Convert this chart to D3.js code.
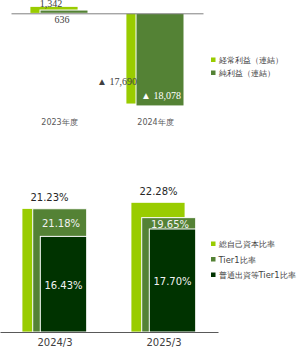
<!DOCTYPE html>
<html>
<head>
<meta charset="utf-8">
<script src="https://cdn.jsdelivr.net/npm/d3@7"></script>
<style>
  body { margin: 0; background: #fff; }
  svg { display: block; }
</style>
</head>
<body>
<svg id="chart"></svg>
<script>
// top chart: profit (millions of yen)
let years = ["2023年度", "2024年度"];
let ordinaryProfit = [1342, -17690];
let netProfit = [636, -18078];
let profitNames = ["経常利益（連結）", "純利益（連結）"];

// bottom chart: capital ratios (%)
let periods = ["2024/3", "2025/3"];
let totalRatio = [21.23, 22.28];
let tier1Ratio = [21.18, 19.65];
let cet1Ratio = [16.43, 17.70];
let ratioNames = ["総自己資本比率", "Tier1比率", "普通出資等Tier1比率"];

let light = "#99cc00", mid = "#548235", dark = "#003300";
let sans = "'DejaVu Sans', sans-serif";
let serif = "'Liberation Serif', serif";

let svg = d3.select("svg#chart").attr("width", 297).attr("height", 350);

// ---------- top ----------
let xTop = d3.scalePoint().domain(years).range([11, 203]).padding(0.5);
let yTop = d3.scaleLinear().domain([2000, -20000]).range([3.05, 115.8]);
let fmt = d3.format(",");
let signed = v => v < 0 ? "▲ " + fmt(-v) : fmt(v);

let topG = svg.append("g");
topG.selectAll("rect.op").data(ordinaryProfit).enter().append("rect")
  .attr("x", (d, i) => xTop(years[i]) - 29).attr("width", 48)
  .attr("y", d => yTop(Math.max(0, d)))
  .attr("height", d => Math.abs(yTop(d) - yTop(0)))
  .attr("fill", light).attr("stroke", "#fff").attr("stroke-width", 0.8);
topG.selectAll("rect.np").data(netProfit).enter().append("rect")
  .attr("x", (d, i) => xTop(years[i]) - 19).attr("width", 48)
  .attr("y", d => yTop(Math.max(0, d)))
  .attr("height", d => Math.abs(yTop(d) - yTop(0)))
  .attr("fill", mid).attr("stroke", "#fff").attr("stroke-width", 1);

let topAxis = d3.axisBottom(xTop).tickSize(0).tickPadding(106);
let ta = svg.append("g").attr("transform", "translate(0," + yTop(0) + ")").call(topAxis);
ta.select(".domain").attr("stroke", "#808080").attr("stroke-width", 1);
ta.selectAll("text").style("font-family", sans).style("font-size", "8px").attr("fill", "#595959");

ordinaryProfit.forEach(function(v, i) {
  let c = xTop(years[i]);
  if (v >= 0) {
    topG.append("text").attr("x", c - 8).attr("y", yTop(v) + 0.5)
      .attr("text-anchor", "middle").style("font-family", serif).style("font-size", "10px")
      .attr("fill", "#404040").text(signed(v));
  } else {
    topG.append("text").attr("x", c - 18).attr("y", 85)
      .attr("text-anchor", "end").style("font-family", serif).style("font-size", "10px")
      .attr("fill", "#404040").text(signed(v));
  }
});
netProfit.forEach(function(v, i) {
  let c = xTop(years[i]);
  if (v >= 0) {
    topG.append("text").attr("x", c + 3).attr("y", yTop(0) + 10)
      .attr("text-anchor", "middle").style("font-family", serif).style("font-size", "10px")
      .attr("fill", "#404040").text(signed(v));
  } else {
    topG.append("text").attr("x", c + 6).attr("y", yTop(v) - 7)
      .attr("text-anchor", "middle").style("font-family", serif).style("font-size", "10px")
      .attr("fill", "#fff").text(signed(v));
  }
});

let topLegend = [light, mid];
topLegend.forEach(function(col, i) {
  let yy = 60 + i * 13;
  svg.append("rect").attr("x", 211).attr("y", yy - 2.5).attr("width", 4.5).attr("height", 4.5).attr("fill", col);
  svg.append("text").attr("x", 218.5).attr("y", yy + 3).style("font-family", sans).style("font-size", "8.4px")
    .attr("fill", "#404040").text(profitNames[i]);
});

// ---------- bottom ----------
let xBot = d3.scalePoint().domain(periods).range([0, 218]).padding(0.5);
let yBot = d3.scaleLinear().domain([0, 25]).range([332, 186.5]);
let pct = d => d.toFixed(2) + "%";
let botG = svg.append("g");

botG.selectAll("rect.tot").data(totalRatio).enter().append("rect")
  .attr("x", (d, i) => xBot(periods[i]) - 32.5).attr("width", 54)
  .attr("y", d => yBot(d)).attr("height", d => yBot(0) - yBot(d))
  .attr("fill", light).attr("stroke", "#fff").attr("stroke-width", 0.8);
botG.selectAll("rect.t1").data(tier1Ratio).enter().append("rect")
  .attr("x", (d, i) => xBot(periods[i]) - 21.8).attr("width", 54)
  .attr("y", d => yBot(d)).attr("height", d => yBot(0) - yBot(d))
  .attr("fill", mid).attr("stroke", "#fff").attr("stroke-width", 1);
botG.selectAll("rect.cet").data(cet1Ratio).enter().append("rect")
  .attr("x", (d, i) => xBot(periods[i]) - 14.2).attr("width", 46.4)
  .attr("y", d => yBot(d)).attr("height", d => yBot(0) - yBot(d))
  .attr("fill", dark).attr("stroke", "#fff").attr("stroke-width", 1);

let botAxis = d3.axisBottom(xBot).tickSize(0).tickPadding(7);
let ba = svg.append("g").attr("transform", "translate(0," + yBot(0) + ")").call(botAxis);
ba.select(".domain").attr("stroke", "#595959").attr("stroke-width", 1);
ba.selectAll("text").style("font-family", sans).style("font-size", "10px").attr("fill", "#404040");

periods.forEach(function(p, i) {
  let c = xBot(p);
  botG.append("text").attr("x", c - 5).attr("y", yBot(totalRatio[i]) - 7.5)
    .attr("text-anchor", "middle").style("font-family", sans).style("font-size", "10px")
    .attr("fill", "#262626").text(pct(totalRatio[i]));
  botG.append("text").attr("x", c + 6.5).attr("y", (yBot(tier1Ratio[i]) + yBot(cet1Ratio[i])) / 2 + 4.5)
    .attr("text-anchor", "middle").style("font-family", sans).style("font-size", "10px")
    .attr("fill", "#f2f2f2").text(pct(tier1Ratio[i]));
  botG.append("text").attr("x", c + 9).attr("y", (yBot(cet1Ratio[i]) + yBot(0)) / 2 + 4.5)
    .attr("text-anchor", "middle").style("font-family", sans).style("font-size", "10px")
    .attr("fill", "#f2f2f2").text(pct(cet1Ratio[i]));
});

let botLegend = [light, mid, dark];
botLegend.forEach(function(col, i) {
  let yy = 244 + i * 15.5;
  svg.append("rect").attr("x", 211).attr("y", yy - 2.5).attr("width", 4.5).attr("height", 4.5).attr("fill", col);
  svg.append("text").attr("x", 218.5).attr("y", yy + 3).style("font-family", sans).style("font-size", "8.4px")
    .attr("fill", "#404040").text(ratioNames[i]);
});
</script>
</body>
</html>
